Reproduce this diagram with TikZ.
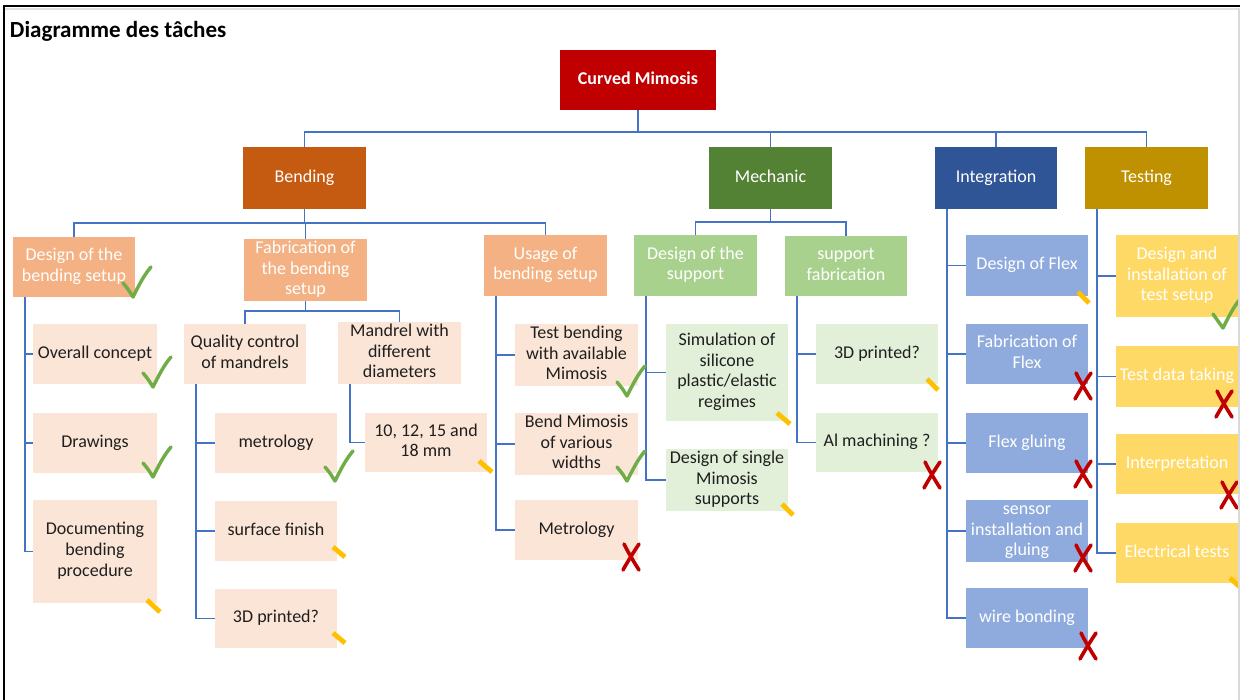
\documentclass[tikz,border=0pt]{standalone}
\usepackage{fontspec}
\setmainfont{Carlito}

\definecolor{cRoot}{HTML}{C00000}
\definecolor{cBend}{HTML}{C55A11}
\definecolor{cBendM}{HTML}{F4B183}
\definecolor{cBendL}{HTML}{FBE5D6}
\definecolor{cMech}{HTML}{548235}
\definecolor{cMechM}{HTML}{A9D18E}
\definecolor{cMechL}{HTML}{E2F0D9}
\definecolor{cInt}{HTML}{2F5597}
\definecolor{cIntM}{HTML}{8FAADC}
\definecolor{cTest}{HTML}{BF9000}
\definecolor{cTestM}{HTML}{FFD966}
\definecolor{linkblue}{HTML}{4472C4}
\definecolor{okgreen}{HTML}{70AD47}
\definecolor{nored}{HTML}{C00000}
\definecolor{penyellow}{HTML}{FFC000}
\definecolor{ink}{HTML}{1F1F1F}

\newcommand{\bodyfont}{\fontsize{13.5}{15.5}\selectfont}
% box: style, name, left, top, right, bottom, text (struts keep lines vertically balanced)
\newcommand{\tbox}[7]{\node[#1, anchor=north west,
  minimum width={(#5-#3)*0.75pt}, minimum height={(#6-#4)*0.75pt}] (#2) at (#3,#4) {\strut#7\strut};}

\begin{document}
\begin{tikzpicture}[x=0.75pt, y=-0.75pt,
  every node/.style={font=\bodyfont, inner sep=0pt, outer sep=0pt, align=center},
  rootbox/.style={fill=cRoot, text=white, font=\bodyfont\bfseries},
  bendhead/.style={fill=cBend, text=white},
  bendmid/.style={fill=cBendM, text=white},
  bendleaf/.style={fill=cBendL, text=ink},
  mechhead/.style={fill=cMech, text=white},
  mechmid/.style={fill=cMechM, text=white},
  mechleaf/.style={fill=cMechL, text=ink},
  inthead/.style={fill=cInt, text=white},
  intleaf/.style={fill=cIntM, text=white},
  testhead/.style={fill=cTest, text=white},
  testleaf/.style={fill=cTestM, text=white},
  conn/.style={draw=linkblue, line width=1.1pt},
  okmark/.pic={\draw[okgreen, line width=2.6pt, line cap=round, line join=round]
      (-10,-14) .. controls (-5,-8) .. (0,0) .. controls (6,-12) and (11,-22) .. (18,-30);},
  nomark/.pic={\draw[nored, line width=2.7pt, line cap=round]
      (-7,-13) .. controls (-2,-3) and (3,5) .. (8,13)
      (8,-13) .. controls (2,-4) and (-3,4) .. (-8,13);},
  pencil/.style={draw=penyellow, line width=3.6pt}
]
\useasboundingbox (0,0) rectangle (1240,700);
\fill[white] (0,0) rectangle (1240,700);

% page frame
\draw[black, line width=1.5pt] (3.7,700) -- (3.7,6) -- (1240,6);
\draw[black!12, line width=1.5pt] (5,8.5) -- (1240,8.5);

% title
\node[anchor=base west, font=\fontsize{17.3}{20}\selectfont\bfseries, text=black] (title) at (10,37) {Diagramme des tâches};

% top levels
\tbox{rootbox}{root}{560}{50}{716}{110}{Curved Mimosis}
\tbox{bendhead}{bend}{243}{147}{366}{209}{Bending}
\tbox{mechhead}{mech}{709}{147}{832}{209}{Mechanic}
\tbox{inthead}{integ}{935}{147}{1057}{209}{Integration}
\tbox{testhead}{test}{1085}{147}{1208}{209}{Testing}

% bending branch
\tbox{bendmid}{dbs}{13}{237}{135}{297}{Design of the\\bending setup}
\tbox{bendmid}{fab}{244}{239}{367}{300}{Fabrication of\\the bending\\setup}
\tbox{bendmid}{use}{484}{235}{607}{296}{Usage of\\bending setup}
\tbox{bendleaf}{oc}{33}{324}{157}{384}{Overall concept}
\tbox{bendleaf}{drw}{33}{413}{157}{473}{Drawings}
\tbox{bendleaf}{doc}{33}{500}{157}{603}{Documenting\\bending\\procedure}
\tbox{bendleaf}{qc}{184}{324}{306}{384}{Quality control\\of mandrels}
\tbox{bendleaf}{mdr}{338}{322}{461}{383}{Mandrel with\\different\\diameters}
\tbox{bendleaf}{met}{215}{413}{337}{473}{metrology}
\tbox{bendleaf}{surf}{215}{501}{337}{561}{surface finish}
\tbox{bendleaf}{prt}{215}{589}{337}{648}{3D printed?}
\tbox{bendleaf}{dia}{365}{413}{487}{472}{10, 12, 15 and\\18 mm}
\tbox{bendleaf}{tb}{515}{324}{638}{384}{Test bending\\with available\\Mimosis}
\tbox{bendleaf}{bm}{515}{413}{638}{473}{Bend Mimosis\\of various\\widths}
\tbox{bendleaf}{umet}{515}{500}{638}{560}{Metrology}

% mechanic branch
\tbox{mechmid}{dsup}{634}{235}{757}{296}{Design of the\\support}
\tbox{mechmid}{sfab}{785}{236}{907}{296}{support\\fabrication}
\tbox{mechleaf}{sim}{666}{324}{788}{421}{Simulation of\\silicone\\plastic/elastic\\regimes}
\tbox{mechleaf}{single}{666}{449}{788}{509}{Design of single\\Mimosis\\supports}
\tbox{mechleaf}{sprt}{816}{324}{938}{384}{3D printed?}
\tbox{mechleaf}{alm}{816}{413}{938}{472}{Al machining ?}

% integration branch
\tbox{intleaf}{dflex}{966}{235}{1088}{296}{Design of Flex}
\tbox{intleaf}{fflex}{966}{324}{1088}{384}{Fabrication of\\Flex}
\tbox{intleaf}{gflex}{966}{413}{1088}{473}{Flex gluing}
\tbox{intleaf}{sens}{966}{500}{1088}{560}{sensor\\installation and\\gluing}
\tbox{intleaf}{wire}{966}{588}{1088}{648}{wire bonding}

% testing branch
\tbox{testleaf}{tset}{1116}{235}{1238}{317}{Design and\\installation of\\test setup}
\tbox{testleaf}{tdata}{1116}{346}{1238}{407}{Test data taking}
\tbox{testleaf}{interp}{1116}{434}{1238}{494}{Interpretation}
\tbox{testleaf}{elec}{1116}{523}{1238}{583}{Electrical tests}

% connectors
\foreach \c in {bend,mech,integ,test} \draw[conn] (root.south) -- ++(0,22) -| (\c.north);
\foreach \c in {dbs,fab,use} \draw[conn] (bend.south) -- ++(0,14) -| (\c.north);
\foreach \c in {dsup,sfab} \draw[conn] (mech.south) -- ++(0,13) -| (\c.north);
\foreach \c in {qc,mdr} \draw[conn] (fab.south) -- ++(0,10) -| (\c.north);
\foreach \p/\c in {dbs/oc, dbs/drw, dbs/doc, qc/met, qc/surf, qc/prt, mdr/dia,
    use/tb, use/bm, use/umet, dsup/sim, dsup/single, sfab/sprt, sfab/alm,
    integ/dflex, integ/fflex, integ/gflex, integ/sens, integ/wire,
    test/tset, test/tdata, test/interp, test/elec}
  \draw[conn] ([xshift=9pt]\p.south west) |- (\c.west);

% status marks: done
\foreach \x/\y in {133/297, 153/387, 153/477, 335/481, 627/396, 627/481, 1223/328}
  \pic at (\x,\y) {okmark};
% status marks: not started
\foreach \x/\y in {631/557, 932/475, 1083/386, 1083/474, 1083/558, 1088/646, 1224/404, 1229/495}
  \pic at (\x,\y) {nomark};
% status marks: in progress
\foreach \a/\b/\c/\d in {147/600/160/612, 333/547/345/557, 333/633/345/643, 479/461/492/472,
    777/413/790/424, 782/504/793/515, 927/379/938/390, 1078/292/1089/303, 1230/578/1241/588}
  \draw[pencil] (\a,\b) -- (\c,\d);

% right page edge
\draw[black!15, line width=1.5pt] (1238.5,8) -- (1238.5,700);
\end{tikzpicture}
\end{document}
